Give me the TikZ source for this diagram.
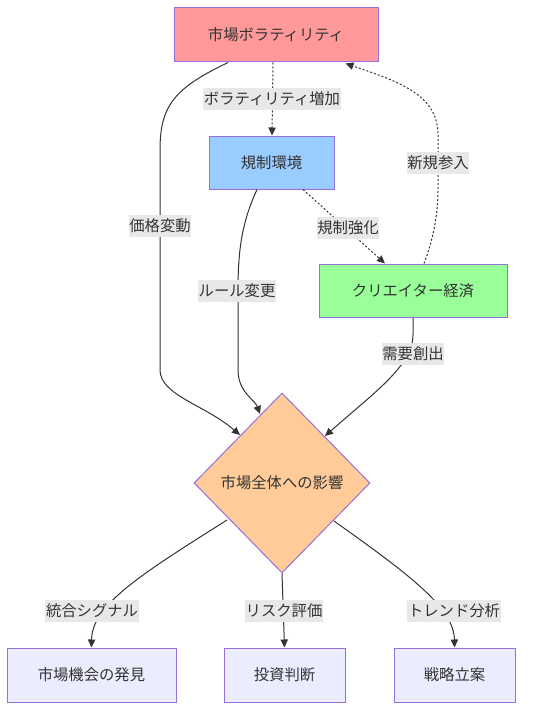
\documentclass[tikz,border=0pt]{standalone}
\usepackage{fontspec}
\setmainfont{Noto Sans CJK JP}
\usetikzlibrary{shapes.geometric,arrows.meta,calc}
\definecolor{txt}{HTML}{333333}
\definecolor{edge}{HTML}{333333}
\definecolor{bord}{HTML}{9370DB}
\definecolor{cred}{HTML}{FF9999}
\definecolor{cblue}{HTML}{99CCFF}
\definecolor{cgreen}{HTML}{99FF99}
\definecolor{corange}{HTML}{FFCC99}
\definecolor{clav}{HTML}{ECECFF}
\definecolor{lblbg}{HTML}{E8E8E8}
\tikzset{
  box/.style={draw=bord, line width=0.75pt, text=txt, font=\fontsize{11.5pt}{13pt}\selectfont, inner sep=0pt, align=center},
  lbl/.style={fill=lblbg, text=txt, font=\fontsize{11.5pt}{13pt}\selectfont, inner xsep=0.5pt, inner ysep=3pt},
  conn/.style={draw=edge, line width=0.75pt, -{Triangle[length=6pt,width=5.5pt]}},
  dotconn/.style={conn, dash pattern=on 1.5pt off 1.5pt}
}
\begin{document}
\begin{tikzpicture}[x=0.75pt,y=-0.75pt]
\useasboundingbox (0,0) rectangle (536,710);
% nodes
\node[box, fill=cred, minimum width=153pt, minimum height=40.5pt] (vol) at (276,35) {市場ボラティリティ};
\node[box, fill=cblue, minimum width=93.75pt, minimum height=39.75pt] (reg) at (271.5,162.5) {規制環境};
\node[box, fill=cgreen, minimum width=141pt, minimum height=39.75pt] (cre) at (413,290.5) {クリエイター経済};
\node[box, shape=diamond, fill=corange, minimum width=132pt, minimum height=135pt, aspect=1] (imp) at (282,483) {市場全体への影響};
\node[box, fill=clav, minimum width=126.75pt, minimum height=40.5pt] (opp) at (91.5,675) {市場機会の発見};
\node[box, fill=clav, minimum width=90.75pt, minimum height=40.5pt] (inv) at (284.5,675) {投資判断};
\node[box, fill=clav, minimum width=90.75pt, minimum height=40.5pt] (str) at (454.5,675) {戦略立案};
% anchor coordinates
\coordinate (vA) at ($(vol.south)+(-48,0)$);
\coordinate (vB) at ($(vol.south)+(-3,0)$);
\coordinate (vC) at ($(vol.south east)+(-33,1)$);
\coordinate (rA) at ($(reg.south)+(-14.5,0)$);
\coordinate (rB) at ($(reg.south)+(31.5,0)$);
\coordinate (rT) at ($(reg.north)+(0.5,0)$);
\coordinate (cA) at ($(cre.north)+(-28,0)$);
\coordinate (cB) at ($(cre.north)+(11,0)$);
\coordinate (cS) at (cre.south);
\coordinate (iL) at (240,435);
\coordinate (iT) at (260,414);
\coordinate (iR) at (325,436);
\coordinate (oL) at (227,520);
\coordinate (oR) at (334,521);
% edges
\draw[conn] (vA) .. controls (175,88) and (160,105) .. (160,150) -- (160,370) .. controls (160,395) and (205,405) .. (iL);
\draw[dotconn] (vB) -- (rT);
\draw[dotconn] (cB) .. controls (433,240) and (438,215) .. (438,190) -- (438,135) .. controls (438,95) and (400,82) .. (vC);
\draw[dotconn] (rB) -- (cA);
\draw[conn] (rA) .. controls (242,222) and (238,250) .. (238,290) -- (238,370) .. controls (238,392) and (255,400) .. (iT);
\draw[conn] (cS) -- (413,335) .. controls (413,365) and (375,392) .. (iR);
\draw[conn] (oL) .. controls (140,575) and (92,605) .. (opp.north);
\draw[conn] (imp.south) -- (inv.north);
\draw[conn] (oR) .. controls (410,575) and (454,608) .. (str.north);
% labels
\node[lbl] (l1) at (160,226) {価格変動};
\node[lbl] (l2) at (272,99) {ボラティリティ増加};
\node[lbl] (l3) at (438,163) {新規参入};
\node[lbl] (l4) at (348,228) {規制強化};
\node[lbl] (l5) at (237,291) {ルール変更};
\node[lbl] (l6) at (413,354) {需要創出};
\node[lbl] (l7) at (92,611) {統合シグナル};
\node[lbl] (l8) at (284,611) {リスク評価};
\node[lbl] (l9) at (454,611) {トレンド分析};
\end{tikzpicture}
\end{document}
